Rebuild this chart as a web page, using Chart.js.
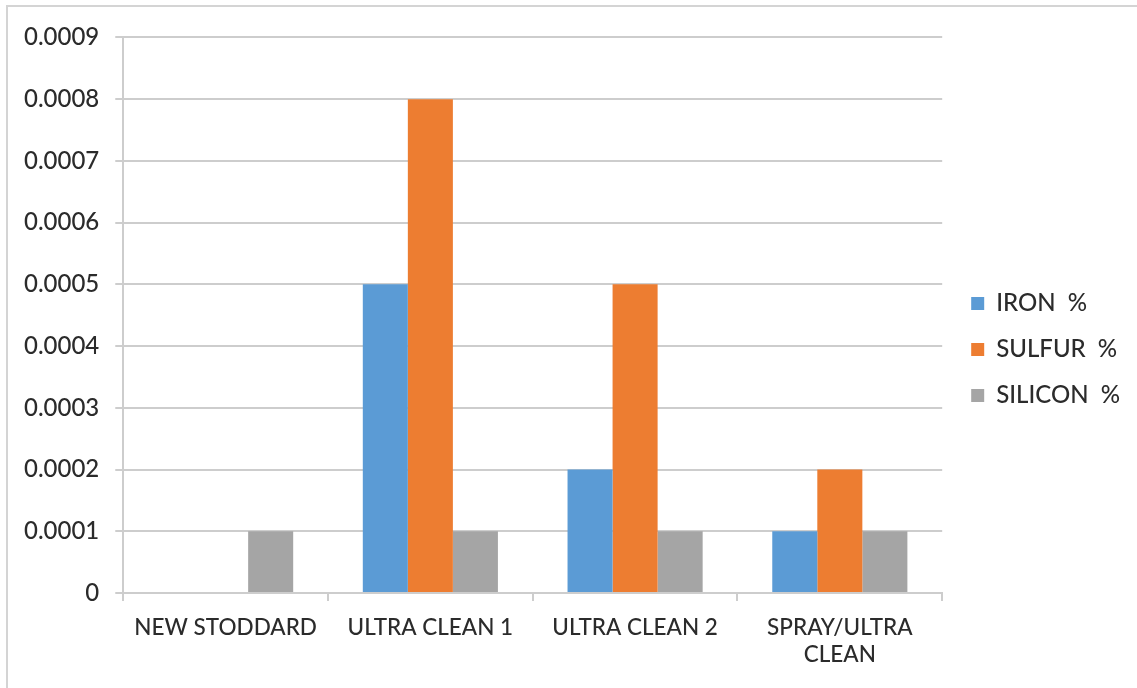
<!DOCTYPE html>
<html>
<head>
<meta charset="utf-8">
<script src="https://cdn.jsdelivr.net/npm/chart.js@4.4.1/dist/chart.umd.min.js"></script>
<style>
  html, body { margin: 0; padding: 0; background: #fff; overflow: hidden; }
  #frame {
    position: absolute; left: 6px; top: 5px; width: 1200px; height: 800px;
    border-left: 2px solid #d4d4d4; border-top: 2px solid #d4d4d4;
  }
  #wrap { position: absolute; left: 8px; top: 7px; width: 1129px; height: 681px; }
</style>
</head>
<body>
<div id="frame"></div>
<div id="wrap"><canvas id="chart"></canvas></div>
<script>
// Sample categories (multi-line labels as arrays)
const categories = ['NEW STODDARD', 'ULTRA CLEAN 1', 'ULTRA CLEAN 2', ['SPRAY/ULTRA', 'CLEAN']];

// Element content, in percent
const ironPct    = [0,      0.0005, 0.0002, 0.0001];
const sulfurPct  = [0,      0.0008, 0.0005, 0.0002];
const siliconPct = [0.0001, 0.0001, 0.0001, 0.0001];

const seriesNames = ['IRON  %', 'SULFUR  %', 'SILICON  %'];
const seriesColors = ['#5b9bd5', '#ed7d31', '#a5a5a5'];

const yTicks = [0, 0.0001, 0.0002, 0.0003, 0.0004, 0.0005, 0.0006, 0.0007, 0.0008, 0.0009];

const textColor = '#2b2b2b';
const gridColor = '#cdcdcd';
const fontFamily = 'Lato, "Open Sans", sans-serif';
const fontWeight = 500;

const datasets = [ironPct, sulfurPct, siliconPct].map((vals, i) => ({
  label: seriesNames[i],
  data: vals,
  backgroundColor: seriesColors[i],
  borderWidth: 0,
  categoryPercentage: 0.66,
  barPercentage: 1.0
}));

// Leaves a wider gap between the plot area and the legend entries
const legendShift = {
  id: 'legendShift',
  afterLayout(chart, args, opts) {
    const lg = chart.legend;
    if (lg) { lg.left += opts.dx; lg.right += opts.dx; }
  }
};

new Chart(document.getElementById('chart'), {
  type: 'bar',
  data: { labels: categories, datasets },
  plugins: [legendShift],
  options: {
    responsive: true,
    maintainAspectRatio: false,
    animation: false,
    layout: { padding: { left: 0, right: 14, top: 11, bottom: 7 } },
    plugins: {
      tooltip: { enabled: false },
      legendShift: { dx: 7 },
      legend: {
        position: 'right',
        align: 'center',
        labels: {
          color: textColor,
          font: { family: fontFamily, size: 24, weight: fontWeight },
          boxWidth: 13,
          boxHeight: 13,
          padding: 22
        }
      }
    },
    scales: {
      x: {
        grid: {
          drawOnChartArea: false,
          drawTicks: true,
          tickLength: 8,
          color: gridColor,
          lineWidth: 2
        },
        border: { display: true, color: gridColor, width: 2 },
        ticks: {
          color: textColor,
          font: { family: fontFamily, size: 22.5, weight: fontWeight },
          maxRotation: 0,
          minRotation: 0,
          autoSkip: false,
          padding: 13
        }
      },
      y: {
        min: 0,
        max: 0.0009,
        afterBuildTicks: (axis) => { axis.ticks = yTicks.map(v => ({ value: v })); },
        grid: {
          color: gridColor,
          lineWidth: 2,
          tickLength: 8
        },
        border: { display: true, color: gridColor, width: 2 },
        ticks: {
          color: textColor,
          font: { family: fontFamily, size: 24, weight: fontWeight },
          padding: 16,
          callback: (v) => v === 0 ? '0' : v.toFixed(4)
        }
      }
    }
  }
});
</script>
</body>
</html>
